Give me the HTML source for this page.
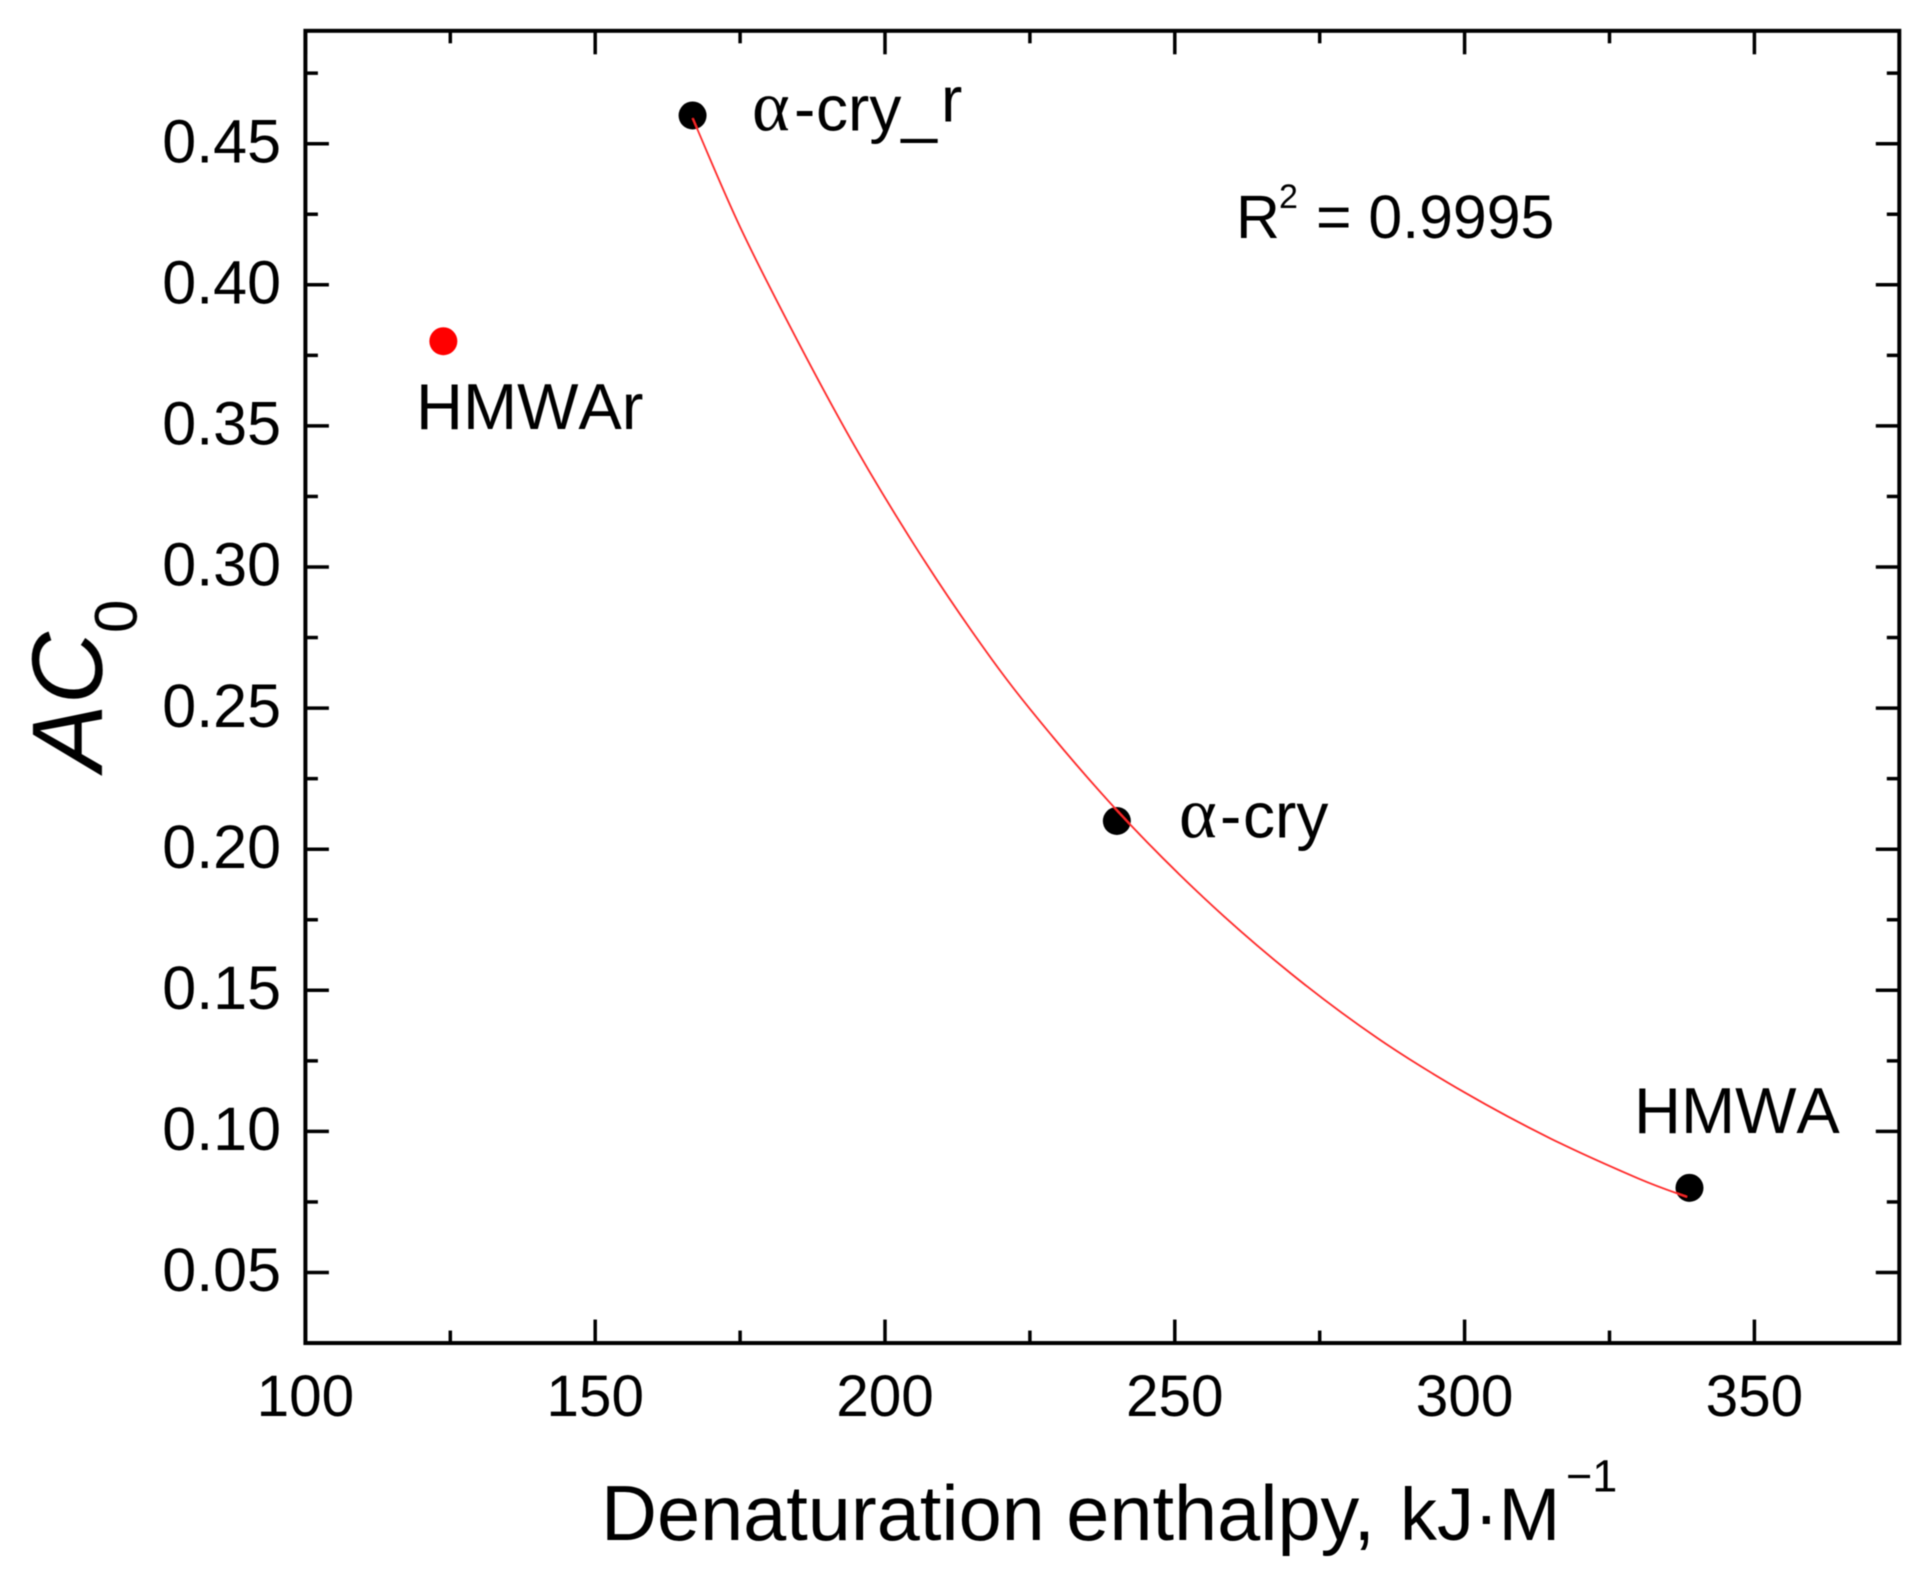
<!DOCTYPE html>
<html lang="en">
<head>
<meta charset="utf-8">
<title>AC0 vs denaturation enthalpy</title>
<style>
html,body{margin:0;padding:0;background:#fff;width:1929px;height:1580px;overflow:hidden}
svg{display:block}
text{font-family:"Liberation Sans",Arial,sans-serif;fill:#000}
.serif{font-family:"Liberation Serif","Times New Roman",serif}
.nokern{font-kerning:none}
</style>
</head>
<body>
<svg id="chart" xmlns="http://www.w3.org/2000/svg" width="1929" height="1580" viewBox="0 0 1929 1580">
  <defs><filter id="soft" x="-2%" y="-2%" width="104%" height="104%"><feGaussianBlur stdDeviation="0.6"/></filter></defs>
  <rect x="0" y="0" width="1929" height="1580" fill="#fff"/>
  <g id="plot" filter="url(#soft)">
    <g id="ticks"></g>
    <g id="tick-labels"></g>
    <rect id="frame" fill="none" stroke="#000" stroke-width="4"/>
    <g id="series"></g>

    <text font-size="64" y="130.7"><tspan class="serif" x="752" font-size="72">α</tspan><tspan x="794">-</tspan><tspan x="816">cry_</tspan><tspan x="941" dy="-9">r</tspan></text>
    <text font-size="64" y="837.3"><tspan class="serif" x="1179" font-size="72">α</tspan><tspan x="1220">-</tspan><tspan x="1243">cry</tspan></text>
    <text class="nokern" font-size="65" x="416" y="429">HMWAr</text>
    <text class="nokern" font-size="65" x="1634" y="1133">HMWA</text>
    <text font-size="60.8" y="238"><tspan x="1236">R</tspan><tspan x="1279" y="208" font-size="34">2</tspan><tspan x="1316" y="238">= 0.9995</tspan></text>

    <text font-size="77.5" y="1540"><tspan x="601">Denaturation enthalpy,</tspan><tspan x="1400" font-size="74">kJ·M</tspan><tspan x="1566" y="1491.7" font-size="45">−1</tspan></text>
    <text transform="translate(101.7 771) rotate(-90)" font-size="100"><tspan font-style="italic">AC</tspan><tspan x="138" y="35" font-size="60">0</tspan></text>
  </g>
</svg>
<script>
// Axis tick values and printed labels
const xMajorTicks = [100, 150, 200, 250, 300, 350];
const xMinorTicks = [125, 175, 225, 275, 325];
const xTickLabels = ["100", "150", "200", "250", "300", "350"];
const yMajorTicks = [0.05, 0.10, 0.15, 0.20, 0.25, 0.30, 0.35, 0.40, 0.45];
const yMinorTicks = [0.075, 0.125, 0.175, 0.225, 0.275, 0.325, 0.375, 0.425, 0.475];
const yTickLabels = ["0.05", "0.10", "0.15", "0.20", "0.25", "0.30", "0.35", "0.40", "0.45"];
const xDomain = [100, 375];
const yDomain = [0.025, 0.49];

// Data points
const blackPointNames = ["alpha-cry-r", "alpha-cry", "hmwa"];
const blackPointX = [166.8, 240, 338.8];
const blackPointY = [0.46, 0.21, 0.08];
const redPointX = [123.8];
const redPointY = [0.38];

// Fit curve
const fitX = [166.82, 175, 185, 195, 205, 215, 225, 240, 255, 270, 285, 300, 315, 330, 338.37];
const fitY = [0.459, 0.4205, 0.3798, 0.3420, 0.3080, 0.2772, 0.2497, 0.2138, 0.1828, 0.1560, 0.1330, 0.1138, 0.0973, 0.0833, 0.0768];

const NS = "http://www.w3.org/2000/svg";
function xScale(v) { return 305.4 + (v - 100) * 5.796; }
function yScale(v) { return 143.7 + (0.45 - v) * 2822; }
function create(tag, geometry, parent) {
  const el = document.createElementNS(NS, tag);
  for (const key in geometry) el.setAttribute(key, geometry[key]);
  parent.appendChild(el);
  return el;
}

const left = xScale(xDomain[0]), right = xScale(xDomain[1]);
const top_ = yScale(yDomain[1]), bottom = yScale(yDomain[0]);

const frame = document.getElementById("frame");
frame.setAttribute("x", left);
frame.setAttribute("y", top_);
frame.setAttribute("width", right - left);
frame.setAttribute("height", bottom - top_);

const ticksGroup = document.getElementById("ticks");
const labelsGroup = document.getElementById("tick-labels");

function drawXTicks(values, len, kind) {
  values.forEach(function (v) {
    const px = xScale(v);
    const b = create("line", { x1: px, x2: px, y1: bottom, y2: bottom - len, stroke: "#000", "stroke-width": 3.5 }, ticksGroup);
    
    
    const t = create("line", { x1: px, x2: px, y1: top_, y2: top_ + len, stroke: "#000", "stroke-width": 3.5 }, ticksGroup);
    
    
  });
}
function drawYTicks(values, len, kind) {
  values.forEach(function (v) {
    const py = yScale(v);
    const l = create("line", { x1: left, x2: left + len, y1: py, y2: py, stroke: "#000", "stroke-width": 3.5 }, ticksGroup);
    
    
    const r = create("line", { x1: right, x2: right - len, y1: py, y2: py, stroke: "#000", "stroke-width": 3.5 }, ticksGroup);
    
    
  });
}
drawXTicks(xMajorTicks, 23.5, "major");
drawXTicks(xMinorTicks, 12.5, "minor");
drawYTicks(yMajorTicks, 23.5, "major");
drawYTicks(yMinorTicks, 12.5, "minor");

xMajorTicks.forEach(function (v, i) {
  const t = create("text", { x: xScale(v), y: 1416, "text-anchor": "middle", "font-size": 58.5 }, labelsGroup);
  t.textContent = xTickLabels[i];
  
  
});
yMajorTicks.forEach(function (v, i) {
  const t = create("text", { x: 281, y: yScale(v) + 18.7, "text-anchor": "end", "font-size": 61 }, labelsGroup);
  t.textContent = yTickLabels[i];
  
  
});

const seriesGroup = document.getElementById("series");

blackPointX.forEach(function (v, i) {
  const c = create("circle", { cx: xScale(v), cy: yScale(blackPointY[i]), r: 14, fill: "#000" }, seriesGroup);
  
  
});
redPointX.forEach(function (v, i) {
  const c = create("circle", { cx: xScale(v), cy: yScale(redPointY[i]), r: 14, fill: "#ff0000" }, seriesGroup);
  
  
});

// Smooth path through the fit samples (Catmull-Rom to Bezier)
const pts = fitX.map(function (v, i) { return [xScale(v), yScale(fitY[i])]; });
let d = "M" + pts[0][0].toFixed(2) + " " + pts[0][1].toFixed(2);
for (let i = 0; i < pts.length - 1; i++) {
  const p0 = pts[Math.max(i - 1, 0)], p1 = pts[i], p2 = pts[i + 1], p3 = pts[Math.min(i + 2, pts.length - 1)];
  const c1x = p1[0] + (p2[0] - p0[0]) / 6, c1y = p1[1] + (p2[1] - p0[1]) / 6;
  const c2x = p2[0] - (p3[0] - p1[0]) / 6, c2y = p2[1] - (p3[1] - p1[1]) / 6;
  d += "C" + c1x.toFixed(2) + " " + c1y.toFixed(2) + " " + c2x.toFixed(2) + " " + c2y.toFixed(2) + " " + p2[0].toFixed(2) + " " + p2[1].toFixed(2);
}
const fitLine = create("path", { d: d, fill: "none", stroke: "#ff2a2a", "stroke-width": 1.8 }, seriesGroup);


</script>
</body>
</html>
